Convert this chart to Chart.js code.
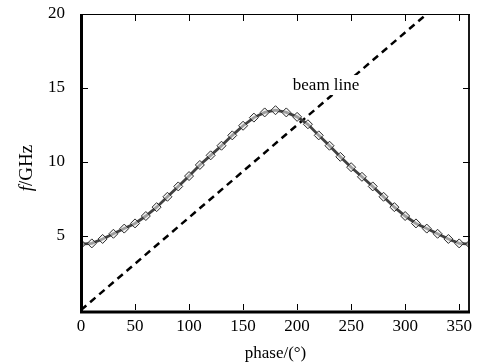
<!DOCTYPE html>
<html>
<head>
<meta charset="utf-8">
<script src="https://cdn.jsdelivr.net/npm/chart.js@4"></script>
<style>
  html, body { margin: 0; padding: 0; background: #fff; }
  #wrap { width: 480px; height: 363px; }
</style>
</head>
<body>
<div id="wrap"><canvas id="chart" width="480" height="363"></canvas></div>
<script>
const phaseDeg = [0, 10, 20, 30, 40, 50, 60, 70, 80, 90, 100, 110, 120, 130, 140, 150, 160, 170, 180,
  190, 200, 210, 220, 230, 240, 250, 260, 270, 280, 290, 300, 310, 320, 330, 340, 350, 360];
const freqGHz = [4.45, 4.5, 4.8, 5.15, 5.5, 5.85, 6.35, 6.95, 7.65, 8.35, 9.05, 9.8, 10.45, 11.1, 11.8, 12.45, 13.0, 13.35, 13.5,
  13.35, 13.05, 12.55, 11.8, 11.1, 10.35, 9.65, 9.0, 8.35, 7.65, 6.95, 6.35, 5.85, 5.5, 5.15, 4.8, 4.5, 4.45];
const beamPhase = [0, 360];
const beamFreq = [0, 22.5];
const xTicks = [0, 50, 100, 150, 200, 250, 300, 350];
const yTicks = [5, 10, 15, 20];
const beamLabel = { x: 196, y: 15.2, text: "beam line" };

const serif = "'Liberation Serif', 'Times New Roman', serif";

// white box behind the beam line label, drawn over the data
const labelPlugin = {
  id: "beamLabel",
  afterDatasetsDraw(chart) {
    const { ctx } = chart;
    const xs = chart.scales.x, ys = chart.scales.y;
    const px = xs.getPixelForValue(beamLabel.x), py = ys.getPixelForValue(beamLabel.y);
    ctx.save();
    ctx.font = "17px " + serif;
    const w = ctx.measureText(beamLabel.text).width;
    ctx.fillStyle = "#fff";
    ctx.fillRect(px - 2, py - 10, w + 4, 20);
    ctx.fillStyle = "#000";
    ctx.textAlign = "left";
    ctx.textBaseline = "middle";
    ctx.fillText(beamLabel.text, px, py);
    ctx.restore();
  },
};

// frame, inward ticks, axis titles
const framePlugin = {
  id: "frame",
  afterDraw(chart) {
    const { ctx, chartArea: a } = chart;
    const xs = chart.scales.x, ys = chart.scales.y;
    ctx.save();
    ctx.strokeStyle = "#000";
    ctx.lineWidth = 1;
    ctx.beginPath();
    ctx.moveTo(a.left, a.top + 0.5); ctx.lineTo(a.right, a.top + 0.5);
    xTicks.forEach((v) => {
      if (v === 0) return;
      const px = Math.round(xs.getPixelForValue(v)) + 0.5;
      ctx.moveTo(px, a.bottom); ctx.lineTo(px, a.bottom - 6);
      ctx.moveTo(px, a.top); ctx.lineTo(px, a.top + 7);
    });
    yTicks.forEach((v) => {
      if (v === 20) return;
      const py = Math.round(ys.getPixelForValue(v)) + 0.5;
      ctx.moveTo(a.left, py); ctx.lineTo(a.left + 7, py);
      ctx.moveTo(a.right, py); ctx.lineTo(a.right - 7, py);
    });
    ctx.stroke();
    ctx.lineWidth = 1.8;
    ctx.beginPath();
    ctx.moveTo(a.right - 1, a.top); ctx.lineTo(a.right - 1, a.bottom + 2);
    ctx.stroke();
    ctx.lineWidth = 3;
    ctx.beginPath();
    ctx.moveTo(a.left + 0.5, a.top); ctx.lineTo(a.left + 0.5, a.bottom + 3.5);
    ctx.moveTo(a.left - 1, a.bottom + 2); ctx.lineTo(a.right, a.bottom + 2);
    ctx.stroke();

    ctx.fillStyle = "#000";
    ctx.font = "17px " + serif;
    ctx.textAlign = "center";
    ctx.textBaseline = "alphabetic";
    ctx.fillText("phase/(\u00b0)", (a.left + a.right) / 2, 358);

    ctx.translate(32, 168);
    ctx.rotate(-Math.PI / 2);
    ctx.font = "italic 19px " + serif;
    const fw = ctx.measureText("f").width;
    ctx.font = "19px " + serif;
    const rw = ctx.measureText("/GHz").width;
    const start = -(fw + rw) / 2;
    ctx.textAlign = "left";
    ctx.font = "italic 19px " + serif;
    ctx.fillText("f", start, 0);
    ctx.font = "19px " + serif;
    ctx.fillText("/GHz", start + fw, 0);
    ctx.restore();
  },
};

new Chart(document.getElementById("chart").getContext("2d"), {
  type: "line",
  data: {
    datasets: [
      {
        label: "dispersion",
        data: phaseDeg.map((p, i) => ({ x: p, y: freqGHz[i] })),
        borderColor: "#404040",
        borderWidth: 2.8,
        pointStyle: "rectRot",
        pointRadius: 4.5,
        pointBorderWidth: 1,
        pointBorderColor: "#2a2a2a",
        pointBackgroundColor: "rgba(235,235,235,0.55)",
        tension: 0,
      },
      {
        label: "beam line",
        data: beamPhase.map((p, i) => ({ x: p, y: beamFreq[i] })),
        borderColor: "#000",
        borderWidth: 2.5,
        borderDash: [7, 5],
        pointRadius: 0,
      },
    ],
  },
  options: {
    responsive: false,
    animation: false,
    layout: { padding: { top: 14, right: 10, left: 0, bottom: 0 } },
    plugins: { legend: { display: false }, tooltip: { enabled: false } },
    scales: {
      x: {
        type: "linear",
        min: 0,
        max: 360,
        grid: { display: false },
        border: { display: false },
        afterBuildTicks: (s) => { s.ticks = xTicks.map((v) => ({ value: v })); },
        afterFit: (s) => { s.height = 53; s.paddingLeft = 0; s.paddingRight = 0; },
        ticks: { color: "#000", font: { family: serif, size: 17 }, padding: -2, maxRotation: 0, autoSkip: false },
      },
      y: {
        min: 0,
        max: 20,
        grid: { display: false },
        border: { display: false },
        afterBuildTicks: (s) => { s.ticks = yTicks.map((v) => ({ value: v })); },
        afterFit: (s) => { s.width = 81; s.paddingTop = 0; s.paddingBottom = 0; },
        ticks: { color: "#000", font: { family: serif, size: 17 }, padding: 8 },
      },
    },
  },
  plugins: [labelPlugin, framePlugin],
});
</script>
</body>
</html>
